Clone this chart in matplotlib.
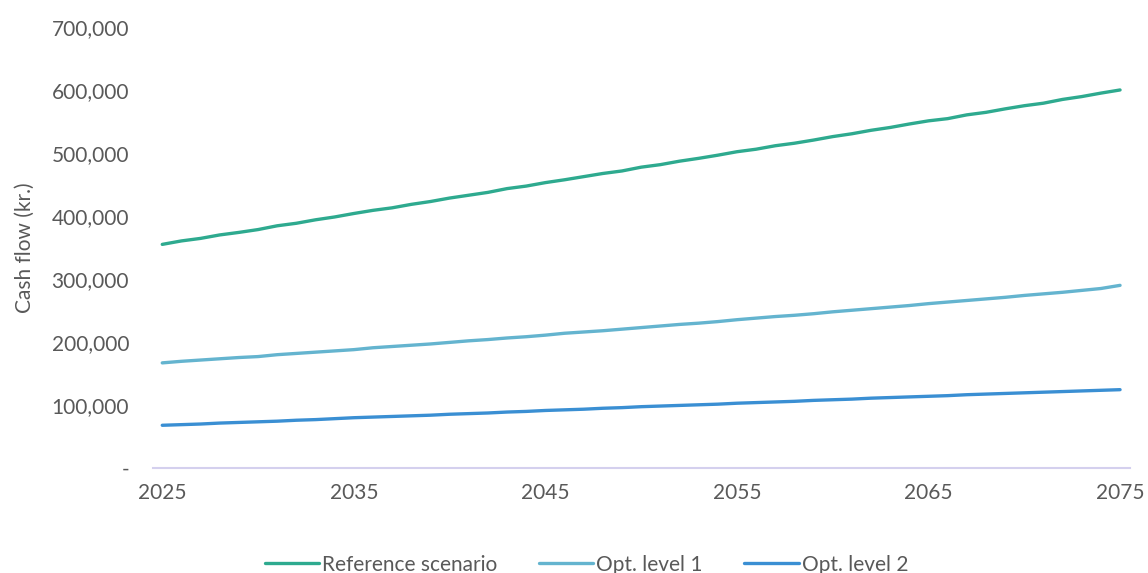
import matplotlib.pyplot as plt
from matplotlib.ticker import FuncFormatter
from matplotlib import font_manager

# Data (values in kr.)
years = list(range(2025, 2076))
reference = [355000, 360500, 364500, 370000, 374000, 378500, 384500, 388500, 394000, 398500,
             404000, 409000, 413000, 418500, 423000, 428500, 433000, 437500, 443500, 447500,
             453000, 457500, 462500, 467500, 471500, 477500, 481500, 487000, 491500, 496500,
             502000, 506000, 511500, 515500, 520500, 526000, 530500, 536000, 540500, 546000,
             551000, 554500, 560500, 564500, 570000, 575000, 579000, 585000, 589500, 595000,
             600000]
opt_level_1 = [167000, 169500, 171500, 173500, 175500, 177000, 180000, 182000, 184000, 186000,
               188000, 191000, 193000, 195000, 197000, 199500, 202000, 204000, 206500, 208500,
               211000, 214000, 216000, 218000, 220500, 223000, 225500, 228000, 230000, 232500,
               235500, 238000, 240500, 242500, 245000, 248000, 250500, 253000, 255500, 258000,
               261000, 263500, 266000, 268500, 271000, 274000, 276500, 279000, 282000, 285000,
               290000]
opt_level_2 = [68000, 69000, 70000, 71500, 72500, 73500, 74500, 76000, 77000, 78500,
               80000, 81000, 82000, 83000, 84000, 85500, 86500, 87500, 89000, 90000,
               91500, 92500, 93500, 95000, 96000, 97500, 98500, 99500, 100500, 101500,
               103000, 104000, 105000, 106000, 107500, 108500, 109500, 111000, 112000, 113000,
               114000, 115000, 116500, 117500, 118500, 119500, 120500, 121500, 122500, 123500,
               124500]
tick_years = [2025, 2035, 2045, 2055, 2065, 2075]

names = [f.name for f in font_manager.fontManager.ttflist]
plt.rcParams['font.family'] = ['Lato', 'DejaVu Sans'] if 'Lato' in names else ['DejaVu Sans']

text_color = '#595959'
fig = plt.figure(figsize=(11.48, 5.73), dpi=100)
ax = fig.add_axes([0.133, 0.183, 0.851, 0.77])

x = list(range(len(years)))
ax.plot(x, reference, color='#2EAA8F', lw=2.4, label='Reference scenario', solid_capstyle='round')
ax.plot(x, opt_level_1, color='#64B4CF', lw=2.4, label='Opt. level 1', solid_capstyle='round')
ax.plot(x, opt_level_2, color='#3A8FD3', lw=2.4, label='Opt. level 2', solid_capstyle='round')

ax.set_xlim(-0.5, len(years) - 0.5)
ax.set_ylim(0, 700000)
ax.set_xticks([years.index(t) for t in tick_years])
ax.set_xticklabels([str(t) for t in tick_years])
ax.set_yticks(range(0, 700001, 100000))
ax.yaxis.set_major_formatter(FuncFormatter(lambda v, p: '-' if v == 0 else f'{v:,.0f}'))

for s in ['top', 'right', 'left']:
    ax.spines[s].set_visible(False)
ax.spines['bottom'].set_color('#D4D0EE')
ax.spines['bottom'].set_linewidth(1.5)
ax.tick_params(length=0, labelsize=15, colors=text_color)
ax.tick_params(axis='y', pad=17)
ax.tick_params(axis='x', pad=11)
ax.set_ylabel('Cash flow (kr.)', fontsize=15, color=text_color, labelpad=12)

ax.legend(loc='upper center', bbox_to_anchor=(0.444, -0.163), ncol=3, frameon=False,
          fontsize=15, labelcolor=text_color, handlelength=2.6, handletextpad=0.15,
          columnspacing=2.0, borderpad=0.2)

fig.savefig('out.png', dpi=100)
